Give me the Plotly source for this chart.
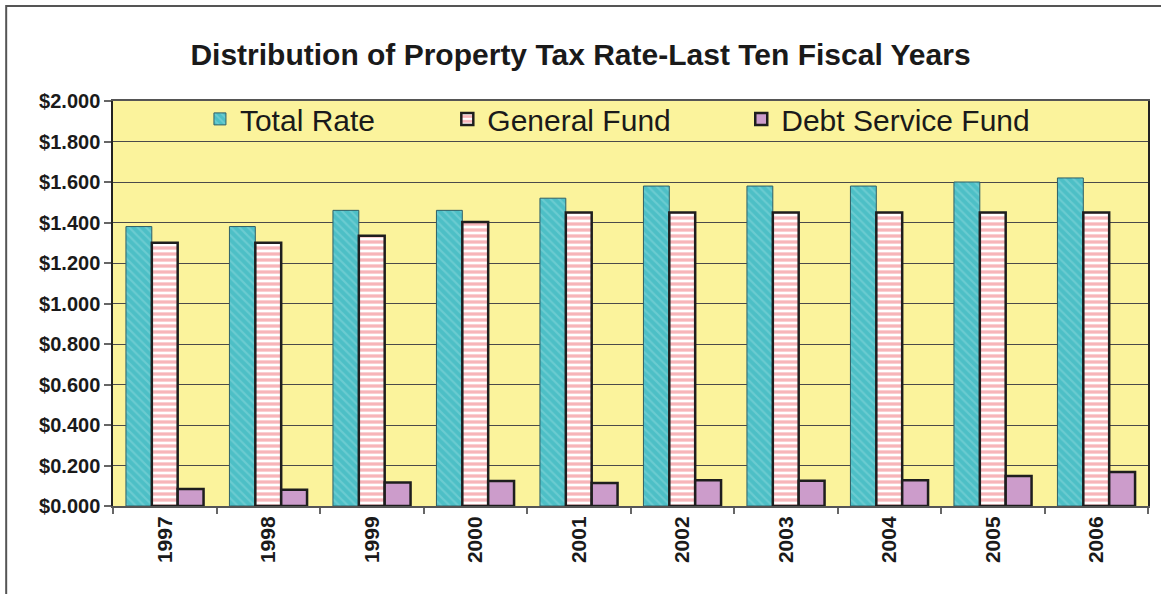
import plotly.graph_objects as go

# Fiscal years and property tax rates (dollars per $100 valuation)
years = ["1997", "1998", "1999", "2000", "2001", "2002", "2003", "2004", "2005", "2006"]
total_rate = [1.380, 1.380, 1.460, 1.460, 1.520, 1.580, 1.580, 1.580, 1.600, 1.620]
general_fund = [1.300, 1.300, 1.335, 1.403, 1.450, 1.450, 1.450, 1.450, 1.450, 1.450]
debt_service = [0.084, 0.080, 0.116, 0.124, 0.114, 0.127, 0.125, 0.127, 0.148, 0.168]

y_ticks = [0.0, 0.2, 0.4, 0.6, 0.8, 1.0, 1.2, 1.4, 1.6, 1.8, 2.0]

FONT = "Liberation Sans, Arial, sans-serif"

fig = go.Figure()

fig.add_trace(go.Bar(
    x=years, y=total_rate, name="Total Rate", legend="legend",
    marker=dict(
        color="#4dbfc6",
        line=dict(color="#2f5f66", width=1),
        pattern=dict(shape="\\", fgcolor="#8ad8dc", size=6, solidity=0.35),
    ),
))
fig.add_trace(go.Bar(
    x=years, y=general_fund, name="General Fund", legend="legend2",
    marker=dict(
        color="#ffffff",
        line=dict(color="#1e1e1e", width=2.5),
        pattern=dict(shape="-", fgcolor="#ef6b74", bgcolor="#ffffff", size=6, solidity=0.55),
    ),
))
fig.add_trace(go.Bar(
    x=years, y=debt_service, name="Debt Service Fund", legend="legend3",
    marker=dict(color="#cc9ccb", line=dict(color="#1e1e1e", width=2.5)),
))

legend_common = dict(
    orientation="h", y=1.02, yanchor="top", xanchor="left",
    bgcolor="rgba(0,0,0,0)", borderwidth=0,
    font=dict(family=FONT, size=30, color="#1a1a1a"),
)

fig.update_layout(
    width=1161, height=594,
    margin=dict(l=113, r=11, t=101, b=88),
    paper_bgcolor="#ffffff",
    plot_bgcolor="#fbf39c",
    barmode="group",
    bargap=0.25,
    bargroupgap=0.0,
    showlegend=True,
    title=dict(
        text="<b>Distribution of Property Tax Rate-Last Ten Fiscal Years</b>",
        x=0.5, xanchor="center", y=0.909, yanchor="middle",
        font=dict(family=FONT, size=30, color="#1a1a1a"),
    ),
    legend=dict(legend_common, x=0.084, visible=True),
    legend2=dict(legend_common, x=0.323),
    legend3=dict(legend_common, x=0.607),
    xaxis=dict(
        type="category",
        tickangle=-90,
        tickfont=dict(family=FONT, size=21, color="#1a1a1a"),
        tickprefix="<b>", ticksuffix="</b>",
        showline=True, linecolor="#555555", linewidth=2, mirror=True,
        ticks="outside", tickson="boundaries", ticklen=6, tickcolor="#666666", tickwidth=1.5,
        showgrid=False,
    ),
    yaxis=dict(
        range=[0, 2.0],
        tickvals=y_ticks,
        ticktext=["<b>$%.3f</b>" % v for v in y_ticks],
        tickfont=dict(family=FONT, size=20, color="#1a1a1a"),
        showline=True, linecolor="#222222", linewidth=1.5, mirror=True,
        ticks="outside", ticklen=7, tickcolor="#666666", tickwidth=1.5,
        showgrid=True, gridcolor="#4a4a4a", gridwidth=1,
        zeroline=False,
    ),
    shapes=[
        # outer frame around the whole chart
        dict(type="rect", xref="paper", yref="paper",
             x0=-0.1032, x1=1.05, y0=-0.25, y1=1.2346,
             line=dict(color="#555555", width=2), fillcolor="rgba(0,0,0,0)",
             layer="below"),
    ],
)

fig.write_html("out.html")
